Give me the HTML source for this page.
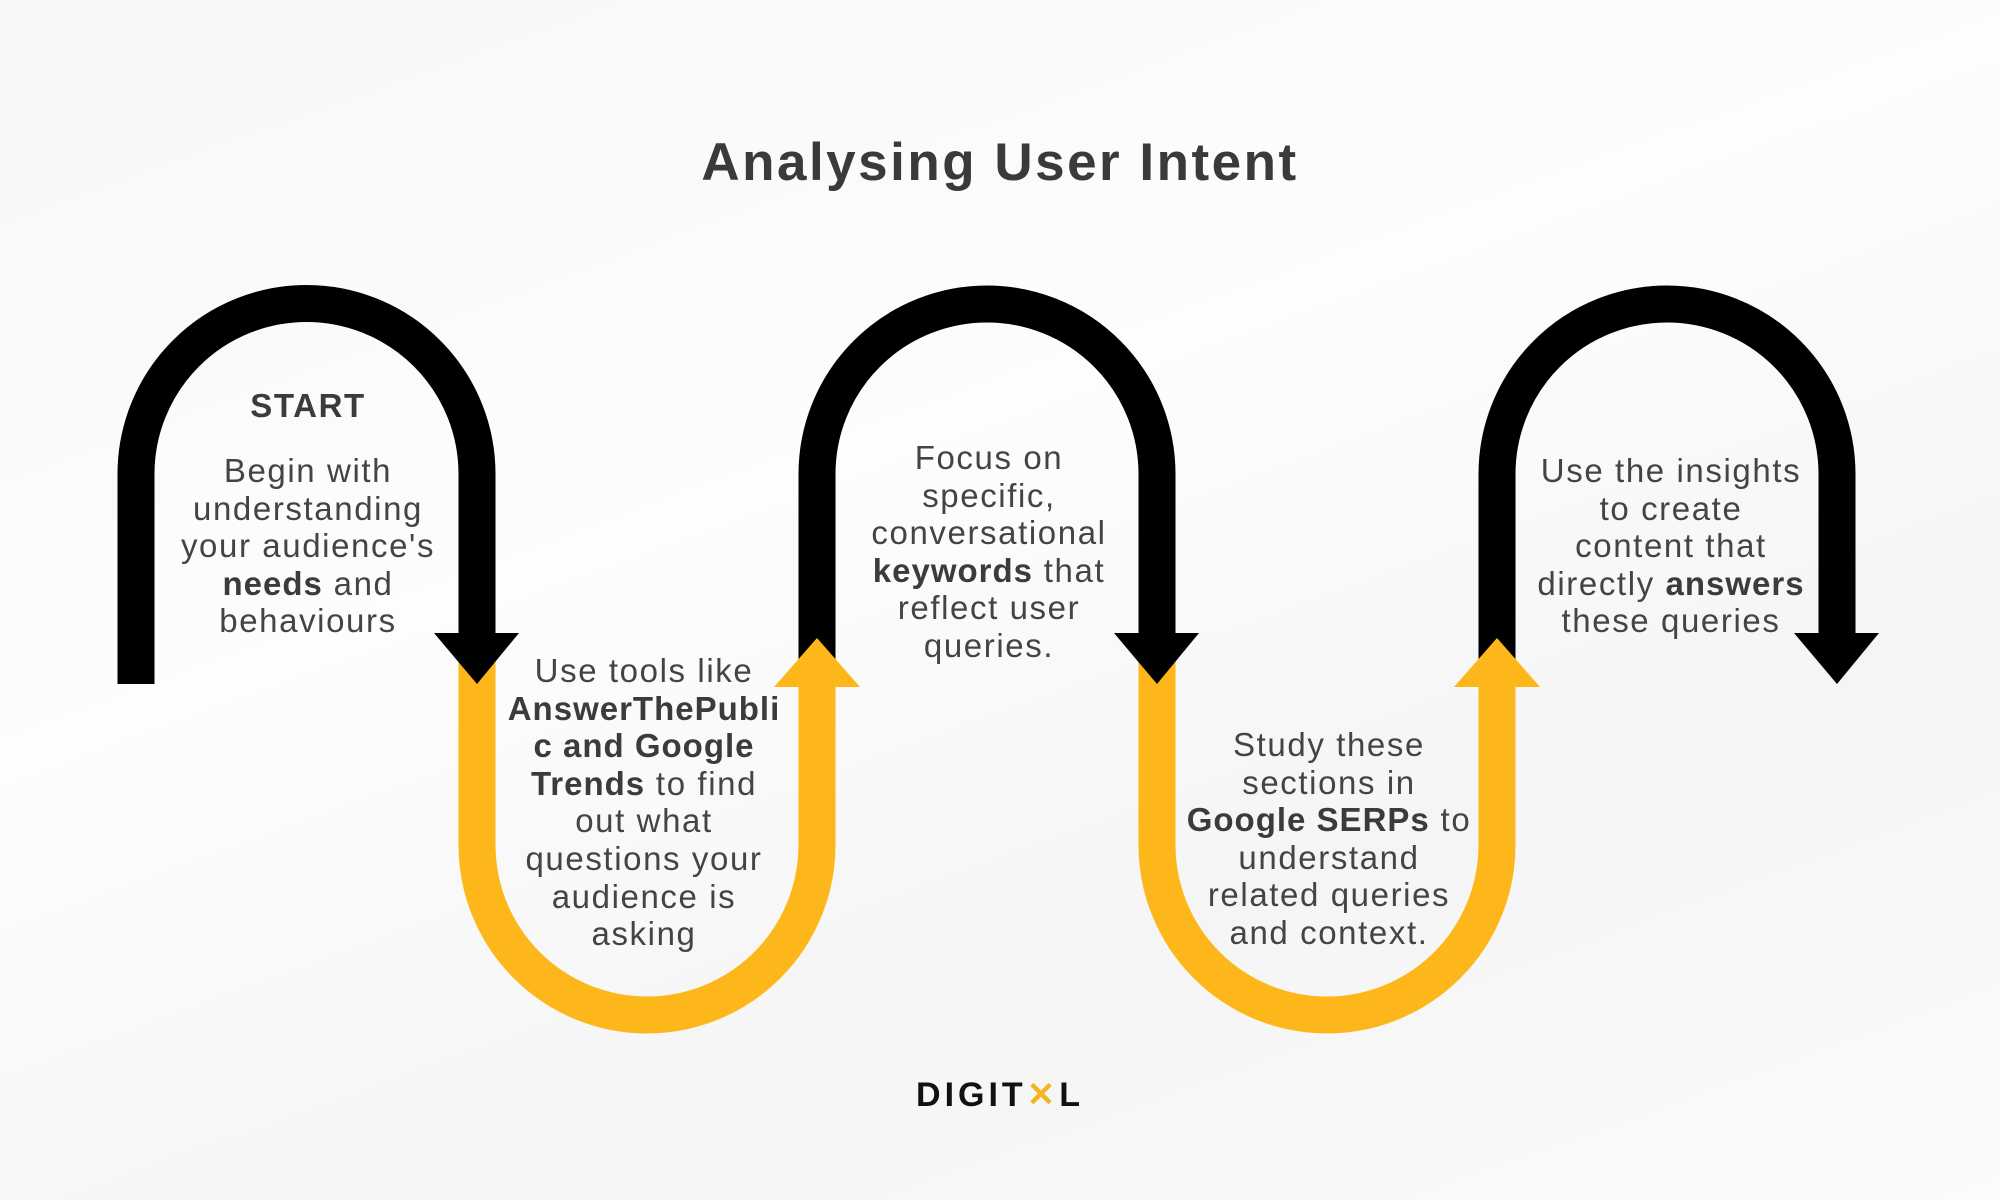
<!DOCTYPE html>
<html><head><meta charset="utf-8"><style>
body{margin:0;width:2000px;height:1200px;background:linear-gradient(160deg,#f7f7f7,#fdfdfd 40%,#f5f5f5 70%,#fbfbfb);position:relative;overflow:hidden;font-family:"Liberation Sans",sans-serif;color:#444}
.t{position:absolute;text-align:center;font-size:33px;line-height:37.6px;letter-spacing:1.6px;transform:translateX(-50%);white-space:nowrap}
b{color:#3b3b3b;letter-spacing:1px}
</style></head><body>
<svg width="2000" height="1200" style="position:absolute;left:0;top:0">
<g fill="none" stroke-width="37">
<path d="M136 684 V474 A170.5 170.5 0 0 1 477 474 V640" stroke="#000"/>
<path d="M477 635 V845 A170 170 0 0 0 817 845 V680" stroke="#FDB71A"/>
<path d="M817 680 V474 A170 170 0 0 1 1157 474 V640" stroke="#000"/>
<path d="M1157 635 V845 A170 170 0 0 0 1497 845 V680" stroke="#FDB71A"/>
<path d="M1497 680 V474 A170 170 0 0 1 1837 474 V640" stroke="#000"/>
</g>
<polygon points="434,633 519,633 477,684" fill="#000"/>
<polygon points="1114,633 1199,633 1157,684" fill="#000"/>
<polygon points="1794,633 1879,633 1837,684" fill="#000"/>
<polygon points="774,687 860,687 817,638" fill="#FDB71A"/>
<polygon points="1454,687 1540,687 1497,638" fill="#FDB71A"/>
</svg>
<div class="t" style="left:1000px;top:133px;font-size:53px;line-height:60px;font-weight:bold;color:#3a3a3a;letter-spacing:2.5px">Analysing User Intent</div>
<div class="t" style="left:308px;top:387px;font-weight:bold;color:#3b3b3b">START</div>
<div class="t" style="left:308px;top:452px">Begin with<br>understanding<br>your audience's<br><b>needs</b> and<br>behaviours</div>
<div class="t" style="left:644px;top:652px"><span>Use tools like</span><br><b>AnswerThePubli</b><br><b>c and Google</b><br><b>Trends</b> to find<br>out what<br>questions your<br>audience is<br>asking</div>
<div class="t" style="left:989px;top:439px">Focus on<br>specific,<br>conversational<br><b>keywords</b> that<br>reflect user<br>queries.</div>
<div class="t" style="left:1329px;top:726px">Study these<br>sections in<br><b>Google SERPs</b> to<br>understand<br>related queries<br>and context.</div>
<div class="t" style="left:1671px;top:452px">Use the insights<br>to create<br>content that<br>directly <b>answers</b><br>these queries</div>
<div class="t" style="left:1000px;top:1077px;font-size:34px;line-height:36px;font-weight:bold;color:#111;letter-spacing:4px">DIGIT<span style="color:#F5B41C">✕</span>L</div>
</body></html>
